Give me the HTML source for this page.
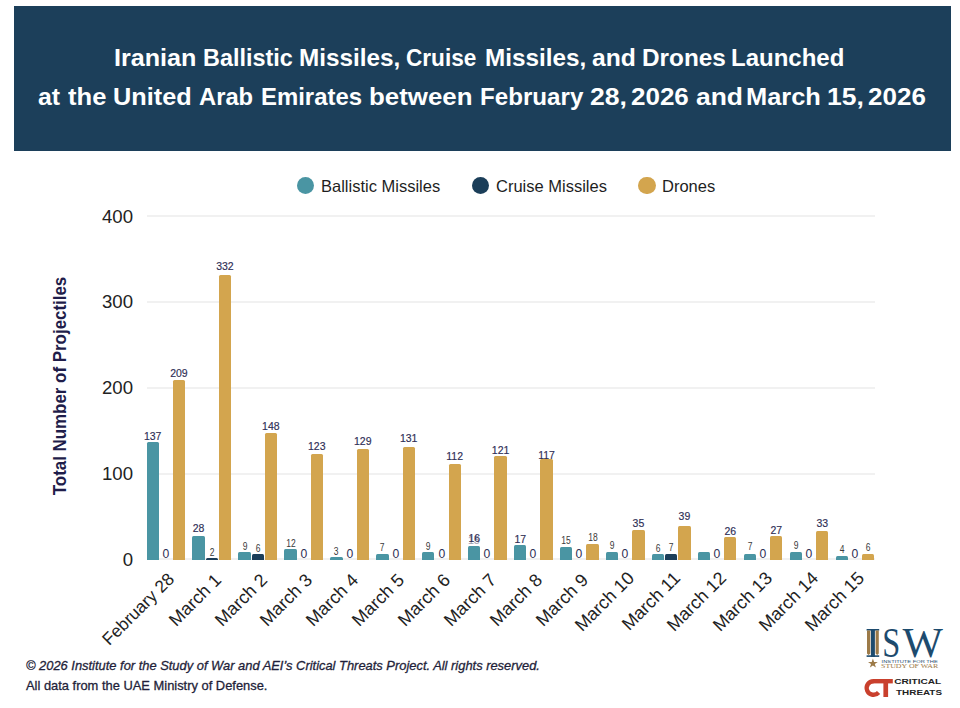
<!DOCTYPE html>
<html><head><meta charset="utf-8">
<style>
html,body{margin:0;padding:0;background:#fff;}
body{width:960px;height:708px;position:relative;overflow:hidden;font-family:"Liberation Sans",sans-serif;}
.title{position:absolute;left:13.5px;top:6px;width:937.5px;height:145px;background:#1C3F5A;}
.tw{position:absolute;color:#fff;font-weight:bold;font-size:24.5px;line-height:30px;white-space:nowrap;transform-origin:0 0;}
.leg{position:absolute;top:0;left:0;}
.dot{position:absolute;width:17.5px;height:17.5px;border-radius:50%;}
.lt{position:absolute;font-size:16.5px;line-height:20px;color:#1E1E1E;white-space:nowrap;}
.gl{position:absolute;left:146.5px;width:728px;height:2px;background:#F1F1F1;}
.yl{position:absolute;left:60px;width:73px;text-align:right;font-size:18.6px;line-height:22px;color:#222;}
.bar{position:absolute;border-radius:1.5px 1.5px 0 0;}
.vl{position:absolute;width:40px;text-align:center;font-size:10.5px;line-height:12px;color:#2E2E55;-webkit-text-stroke:0.15px #2E2E55;}
.lt2{color:#3A3A3A;-webkit-text-stroke:0;transform:scaleX(0.85);font-size:10px;}
.zl{position:absolute;width:40px;text-align:center;font-size:13.5px;line-height:14px;color:#2E2E55;transform:scaleX(0.9);}
.xl{position:absolute;width:300px;height:20px;line-height:20px;text-align:right;transform:rotate(-45deg);transform-origin:100% 50%;}
.xl span{font-size:18px;line-height:20px;color:#222;white-space:nowrap;}
.ytitle{position:absolute;left:59.5px;top:385.8px;width:0;height:0;}
.ytitle span{position:absolute;left:0;top:0;transform:translate(-50%,-50%) rotate(-90deg) scaleX(0.90);font-weight:bold;font-size:18.8px;line-height:20px;color:#1F1D4A;white-space:nowrap;}
.ft{position:absolute;left:26px;font-size:12.9px;line-height:16px;color:#1F1F3A;white-space:nowrap;-webkit-text-stroke:0.3px #1F1F3A;}
</style></head><body>
<div class="title"></div>
<span class="tw" style="left:113.84px;top:43px;transform:scaleX(1.0262)">Iranian</span>
<span class="tw" style="left:202.56px;top:43px;transform:scaleX(0.9549)">Ballistic</span>
<span class="tw" style="left:298.70px;top:43px;transform:scaleX(0.9915)">Missiles,</span>
<span class="tw" style="left:405.80px;top:43px;transform:scaleX(0.9224)">Cruise</span>
<span class="tw" style="left:484.70px;top:43px;transform:scaleX(0.9905)">Missiles,</span>
<span class="tw" style="left:591.76px;top:43px;transform:scaleX(1.0071)">and</span>
<span class="tw" style="left:641.80px;top:43px;transform:scaleX(0.9935)">Drones</span>
<span class="tw" style="left:731.12px;top:43px;transform:scaleX(0.9799)">Launched</span>
<span class="tw" style="left:37.96px;top:82px;transform:scaleX(1.0132)">at</span>
<span class="tw" style="left:68.24px;top:82px;transform:scaleX(1.0443)">the</span>
<span class="tw" style="left:113.28px;top:82px;transform:scaleX(1.0320)">United</span>
<span class="tw" style="left:198.69px;top:82px;transform:scaleX(0.9696)">Arab</span>
<span class="tw" style="left:260.53px;top:82px;transform:scaleX(0.9758)">Emirates</span>
<span class="tw" style="left:369.19px;top:82px;transform:scaleX(1.0557)">between</span>
<span class="tw" style="left:479.81px;top:82px;transform:scaleX(0.9854)">February</span>
<span class="tw" style="left:590.20px;top:82px;transform:scaleX(1.0853)">28,</span>
<span class="tw" style="left:631.42px;top:82px;transform:scaleX(1.0601)">2026</span>
<span class="tw" style="left:695.51px;top:82px;transform:scaleX(1.0796)">and</span>
<span class="tw" style="left:746.02px;top:82px;transform:scaleX(1.0371)">March</span>
<span class="tw" style="left:826.91px;top:82px;transform:scaleX(1.0820)">15,</span>
<span class="tw" style="left:868.42px;top:82px;transform:scaleX(1.0620)">2026</span><div class="dot" style="left:296.5px;top:176.6px;background:#4A95A3"></div>
<div class="lt" style="left:321px;top:176px">Ballistic Missiles</div>
<div class="dot" style="left:471.5px;top:176.6px;background:#1B3E59"></div>
<div class="lt" style="left:496px;top:176px">Cruise Missiles</div>
<div class="dot" style="left:638px;top:176.6px;background:#D3A54E"></div>
<div class="lt" style="left:662px;top:176px">Drones</div>
<div class="ytitle"><span>Total Number of Projectiles</span></div>
<div class="gl" style="top:558.40px"></div>
<div class="gl" style="top:472.60px"></div>
<div class="gl" style="top:386.80px"></div>
<div class="gl" style="top:301.00px"></div>
<div class="gl" style="top:215.20px"></div>
<div class="yl" style="top:548.70px">0</div>
<div class="yl" style="top:462.90px">100</div>
<div class="yl" style="top:377.10px">200</div>
<div class="yl" style="top:291.30px">300</div>
<div class="yl" style="top:205.50px">400</div>
<div class="bar" style="left:146.50px;top:442.05px;width:12.3px;height:117.55px;background:#4A95A3"></div>
<div class="vl" style="left:132.65px;top:429.85px">137</div>
<div class="zl" style="left:145.80px;top:547.00px">0</div>
<div class="bar" style="left:172.80px;top:380.28px;width:12.3px;height:179.32px;background:#D3A54E"></div>
<div class="vl" style="left:158.95px;top:367.38px">209</div>
<div class="xl" style="left:-129.00px;top:565.90px"><span style="font-size:17.3px">February 28</span></div>
<div class="bar" style="left:192.45px;top:535.58px;width:12.3px;height:24.02px;background:#4A95A3"></div>
<div class="vl" style="left:178.60px;top:522.38px">28</div>
<div class="bar" style="left:205.60px;top:557.88px;width:12.3px;height:1.72px;background:#1B3E59"></div>
<div class="vl lt2" style="left:191.75px;top:547.18px">2</div>
<div class="bar" style="left:218.75px;top:274.74px;width:12.3px;height:284.86px;background:#D3A54E"></div>
<div class="vl" style="left:204.90px;top:259.84px">332</div>
<div class="xl" style="left:-82.45px;top:566.50px"><span>March 1</span></div>
<div class="bar" style="left:238.40px;top:551.88px;width:12.3px;height:7.72px;background:#4A95A3"></div>
<div class="vl lt2" style="left:224.55px;top:540.68px">9</div>
<div class="bar" style="left:251.55px;top:554.45px;width:12.3px;height:5.15px;background:#1B3E59"></div>
<div class="vl lt2" style="left:237.70px;top:542.75px">6</div>
<div class="bar" style="left:264.70px;top:432.62px;width:12.3px;height:126.98px;background:#D3A54E"></div>
<div class="vl" style="left:250.85px;top:420.42px">148</div>
<div class="xl" style="left:-36.50px;top:566.50px"><span>March 2</span></div>
<div class="bar" style="left:284.35px;top:549.30px;width:12.3px;height:10.30px;background:#4A95A3"></div>
<div class="vl lt2" style="left:270.50px;top:537.60px">12</div>
<div class="zl" style="left:283.65px;top:547.00px">0</div>
<div class="bar" style="left:310.65px;top:454.07px;width:12.3px;height:105.53px;background:#D3A54E"></div>
<div class="vl" style="left:296.80px;top:440.37px">123</div>
<div class="xl" style="left:9.45px;top:566.50px"><span>March 3</span></div>
<div class="bar" style="left:330.30px;top:557.03px;width:12.3px;height:2.57px;background:#4A95A3"></div>
<div class="vl lt2" style="left:316.45px;top:545.83px">3</div>
<div class="zl" style="left:329.60px;top:547.00px">0</div>
<div class="bar" style="left:356.60px;top:448.92px;width:12.3px;height:110.68px;background:#D3A54E"></div>
<div class="vl" style="left:342.75px;top:435.22px">129</div>
<div class="xl" style="left:55.40px;top:566.50px"><span>March 4</span></div>
<div class="bar" style="left:376.25px;top:553.59px;width:12.3px;height:6.01px;background:#4A95A3"></div>
<div class="vl lt2" style="left:362.40px;top:541.89px">7</div>
<div class="zl" style="left:375.55px;top:547.00px">0</div>
<div class="bar" style="left:402.55px;top:447.20px;width:12.3px;height:112.40px;background:#D3A54E"></div>
<div class="vl" style="left:388.70px;top:431.50px">131</div>
<div class="xl" style="left:101.35px;top:566.50px"><span>March 5</span></div>
<div class="bar" style="left:422.20px;top:551.88px;width:12.3px;height:7.72px;background:#4A95A3"></div>
<div class="vl lt2" style="left:408.35px;top:540.68px">9</div>
<div class="zl" style="left:421.50px;top:547.00px">0</div>
<div class="bar" style="left:448.50px;top:463.50px;width:12.3px;height:96.10px;background:#D3A54E"></div>
<div class="vl" style="left:434.65px;top:449.90px">112</div>
<div class="xl" style="left:147.30px;top:566.50px"><span>March 6</span></div>
<div class="bar" style="left:468.15px;top:545.87px;width:12.3px;height:13.73px;background:#4A95A3"></div>
<div class="vl" style="left:454.30px;top:531.67px">16</div>
<div class="vl" style="left:453.80px;top:533.67px;opacity:0.45">15</div>
<div class="zl" style="left:467.45px;top:547.00px">0</div>
<div class="bar" style="left:494.45px;top:455.78px;width:12.3px;height:103.82px;background:#D3A54E"></div>
<div class="vl" style="left:480.60px;top:443.58px">121</div>
<div class="xl" style="left:193.25px;top:566.50px"><span>March 7</span></div>
<div class="bar" style="left:514.10px;top:545.01px;width:12.3px;height:14.59px;background:#4A95A3"></div>
<div class="vl" style="left:500.25px;top:532.81px">17</div>
<div class="zl" style="left:513.40px;top:547.00px">0</div>
<div class="bar" style="left:540.40px;top:459.21px;width:12.3px;height:100.39px;background:#D3A54E"></div>
<div class="vl" style="left:526.55px;top:449.41px">117</div>
<div class="xl" style="left:239.20px;top:566.50px"><span>March 8</span></div>
<div class="bar" style="left:560.05px;top:546.73px;width:12.3px;height:12.87px;background:#4A95A3"></div>
<div class="vl lt2" style="left:546.20px;top:535.03px">15</div>
<div class="zl" style="left:559.35px;top:547.00px">0</div>
<div class="bar" style="left:586.35px;top:544.16px;width:12.3px;height:15.44px;background:#D3A54E"></div>
<div class="vl lt2" style="left:572.50px;top:531.96px">18</div>
<div class="xl" style="left:285.15px;top:566.50px"><span>March 9</span></div>
<div class="bar" style="left:606.00px;top:551.88px;width:12.3px;height:7.72px;background:#4A95A3"></div>
<div class="vl lt2" style="left:592.15px;top:540.18px">9</div>
<div class="zl" style="left:605.30px;top:547.00px">0</div>
<div class="bar" style="left:632.30px;top:529.57px;width:12.3px;height:30.03px;background:#D3A54E"></div>
<div class="vl" style="left:618.45px;top:517.37px">35</div>
<div class="xl" style="left:331.10px;top:565.00px"><span>March 10</span></div>
<div class="bar" style="left:651.95px;top:554.45px;width:12.3px;height:5.15px;background:#4A95A3"></div>
<div class="vl lt2" style="left:638.10px;top:542.75px">6</div>
<div class="bar" style="left:665.10px;top:553.59px;width:12.3px;height:6.01px;background:#1B3E59"></div>
<div class="vl lt2" style="left:651.25px;top:541.89px">7</div>
<div class="bar" style="left:678.25px;top:526.14px;width:12.3px;height:33.46px;background:#D3A54E"></div>
<div class="vl" style="left:664.40px;top:509.94px">39</div>
<div class="xl" style="left:377.05px;top:565.00px"><span>March 11</span></div>
<div class="bar" style="left:697.90px;top:551.88px;width:12.3px;height:7.72px;background:#4A95A3"></div>
<div class="zl" style="left:697.20px;top:547.00px">0</div>
<div class="bar" style="left:724.20px;top:537.29px;width:12.3px;height:22.31px;background:#D3A54E"></div>
<div class="vl" style="left:710.35px;top:525.09px">26</div>
<div class="xl" style="left:423.00px;top:565.00px"><span>March 12</span></div>
<div class="bar" style="left:743.85px;top:553.59px;width:12.3px;height:6.01px;background:#4A95A3"></div>
<div class="vl lt2" style="left:730.00px;top:541.39px">7</div>
<div class="zl" style="left:743.15px;top:547.00px">0</div>
<div class="bar" style="left:770.15px;top:536.43px;width:12.3px;height:23.17px;background:#D3A54E"></div>
<div class="vl" style="left:756.30px;top:524.23px">27</div>
<div class="xl" style="left:468.95px;top:565.00px"><span>March 13</span></div>
<div class="bar" style="left:789.80px;top:551.88px;width:12.3px;height:7.72px;background:#4A95A3"></div>
<div class="vl lt2" style="left:775.95px;top:540.18px">9</div>
<div class="zl" style="left:789.10px;top:547.00px">0</div>
<div class="bar" style="left:816.10px;top:531.29px;width:12.3px;height:28.31px;background:#D3A54E"></div>
<div class="vl" style="left:802.25px;top:517.09px">33</div>
<div class="xl" style="left:514.90px;top:565.00px"><span>March 14</span></div>
<div class="bar" style="left:835.75px;top:556.17px;width:12.3px;height:3.43px;background:#4A95A3"></div>
<div class="vl lt2" style="left:821.90px;top:544.47px">4</div>
<div class="zl" style="left:835.05px;top:547.00px">0</div>
<div class="bar" style="left:862.05px;top:554.45px;width:12.3px;height:5.15px;background:#D3A54E"></div>
<div class="vl lt2" style="left:848.20px;top:542.25px">6</div>
<div class="xl" style="left:560.85px;top:565.00px"><span>March 15</span></div>
<div class="ft" style="top:657.5px;font-style:italic">© 2026 Institute for the Study of War and AEI’s Critical Threats Project. All rights reserved.</div>
<div class="ft" style="top:677.5px">All data from the UAE Ministry of Defense.</div>
<svg style="position:absolute;left:860px;top:620px" width="90" height="85" viewBox="0 0 90 85">
<g fill="#1D4B6E">
 <rect x="6.6" y="9" width="12.6" height="1.6"/>
 <rect x="6.6" y="35.3" width="12.6" height="1.6"/>
 <rect x="10.9" y="9" width="4" height="28"/>
</g>
<g fill="#9C7A48">
 <path d="M7 10.6 H10.3 V33.5 L8.6 35 L7 33.5 Z"/>
 <path d="M15.6 10.6 H18.8 V33.5 L17.2 35 L15.6 33.5 Z"/>
</g>
<text x="22.2" y="36.8" font-family="Liberation Serif" font-size="43" fill="#1D4B6E" textLength="18" lengthAdjust="spacingAndGlyphs">S</text>
<text x="42.4" y="36.8" font-family="Liberation Serif" font-size="43" fill="#1D4B6E" textLength="40.4" lengthAdjust="spacingAndGlyphs">W</text>
<path fill="#9C7A48" d="M12.9 38.4 L14.1 41.9 L17.8 41.9 L14.8 44.1 L15.9 47.6 L12.9 45.5 L9.9 47.6 L11 44.1 L8 41.9 L11.7 41.9 Z"/>
<text x="21.6" y="42.8" font-family="Liberation Sans" font-size="3.3" fill="#1D4B6E" textLength="56.2" lengthAdjust="spacingAndGlyphs">INSTITUTE FOR THE</text>
<text x="21" y="48.4" font-family="Liberation Serif" font-size="6.8" fill="#9C7A48" textLength="57.3" lengthAdjust="spacingAndGlyphs">STUDY OF WAR</text>
<g fill="none" stroke="#C9402D" stroke-width="4.4">
 <path d="M13.5 61.2 A6.8 6.8 0 1 0 18.6 72.5"/>
</g>
<g fill="#C9402D">
 <rect x="13" y="59" width="19.8" height="4.4"/>
 <rect x="23.4" y="59" width="4.7" height="18"/>
</g>
<text x="34.2" y="63.7" font-family="Liberation Sans" font-weight="bold" font-size="8" fill="#222" textLength="46.9" lengthAdjust="spacingAndGlyphs">CRITICAL</text>
<text x="36.1" y="75" font-family="Liberation Sans" font-weight="bold" font-size="8" fill="#222" textLength="45.9" lengthAdjust="spacingAndGlyphs">THREATS</text>
</svg>
</body></html>
